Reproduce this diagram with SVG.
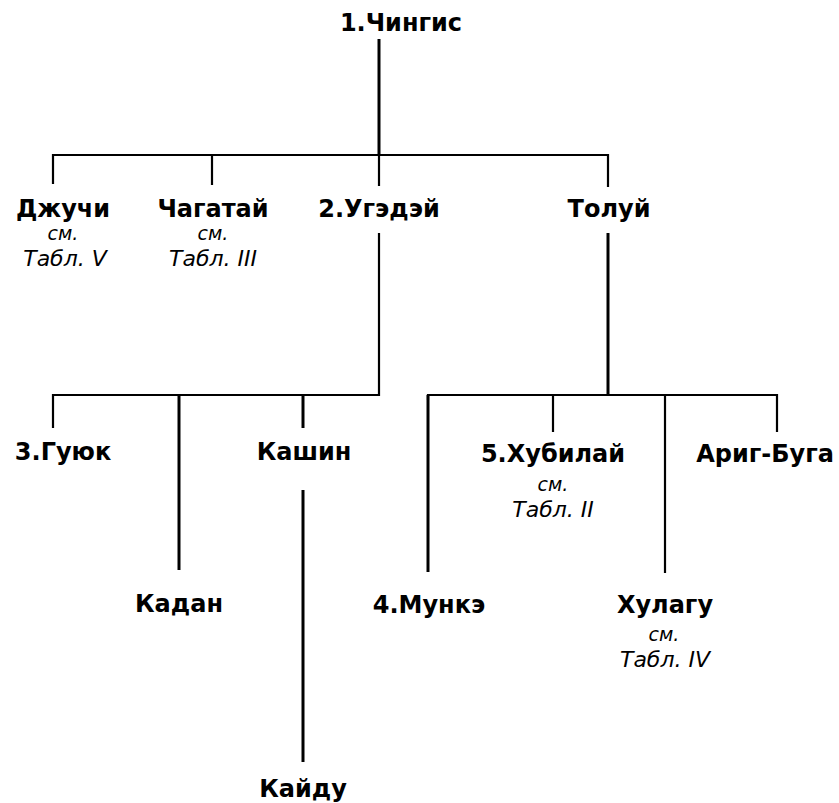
<svg xmlns="http://www.w3.org/2000/svg" width="839" height="803" viewBox="0 0 839 803">
<style>
.n{font-family:"DejaVu Sans","Liberation Sans",sans-serif;font-weight:bold;font-size:24px;fill:#000;text-anchor:middle}
.s{font-family:"DejaVu Sans","Liberation Sans",sans-serif;font-style:italic;font-size:22px;fill:#000;text-anchor:middle}
.c{font-family:"DejaVu Sans","Liberation Sans",sans-serif;font-style:italic;font-size:19px;fill:#000;text-anchor:middle}
.l{stroke:#000;fill:none;stroke-width:2.2}
.t{stroke:#000;fill:none;stroke-width:3}
</style>
<rect width="839" height="803" fill="#fff"/>
<g id="connectors">
<line class="t" x1="379" y1="39" x2="379" y2="156"/>
<polyline class="l" points="53,184 53,155 608,155 608,187"/>
<line class="l" x1="212" y1="155" x2="212" y2="185"/>
<line class="l" x1="379" y1="155" x2="379" y2="186"/>
<polyline class="l" points="379,233 379,395 53,395 53,428"/>
<line class="t" x1="179" y1="395" x2="179" y2="570"/>
<line class="t" x1="303" y1="395" x2="303" y2="428"/>
<line class="t" x1="303" y1="490" x2="303" y2="762"/>
<line class="t" x1="608" y1="233" x2="608" y2="396"/>
<polyline class="l" points="428,400 428,395 777,395 777,432"/>
<line class="t" x1="428" y1="395" x2="428" y2="572"/>
<line class="l" x1="553" y1="395" x2="553" y2="432"/>
<line class="l" x1="665" y1="395" x2="665" y2="573"/>
</g>
<g id="chingis"><text class="n" x="401" y="31">1.Чингис</text></g>
<g id="dzhuchi"><text class="n" x="63" y="217">Джучи</text><text class="c" x="63" y="240">см.</text><text class="s" x="65" y="266">Табл. V</text></g>
<g id="chagatai"><text class="n" x="213" y="217">Чагатай</text><text class="c" x="213" y="240">см.</text><text class="s" x="213" y="266">Табл. III</text></g>
<g id="ugedei"><text class="n" x="379" y="217">2.Угэдэй</text></g>
<g id="tolui"><text class="n" x="609" y="217">Толуй</text></g>
<g id="guyuk"><text class="n" x="63" y="460">3.Гуюк</text></g>
<g id="kadan"><text class="n" x="179" y="612">Кадан</text></g>
<g id="kashin"><text class="n" x="304" y="460">Кашин</text></g>
<g id="kaidu"><text class="n" x="303" y="797">Кайду</text></g>
<g id="munke"><text class="n" x="429" y="613">4.Мункэ</text></g>
<g id="khubilai"><text class="n" x="553" y="462">5.Хубилай</text><text class="c" x="553" y="491">см.</text><text class="s" x="553" y="517">Табл. II</text></g>
<g id="khulagu"><text class="n" x="665" y="613">Хулагу</text><text class="c" x="664" y="641">см.</text><text class="s" x="665" y="667">Табл. IV</text></g>
<g id="arig-buga"><text class="n" x="765" y="462">Ариг-Буга</text></g>
</svg>
